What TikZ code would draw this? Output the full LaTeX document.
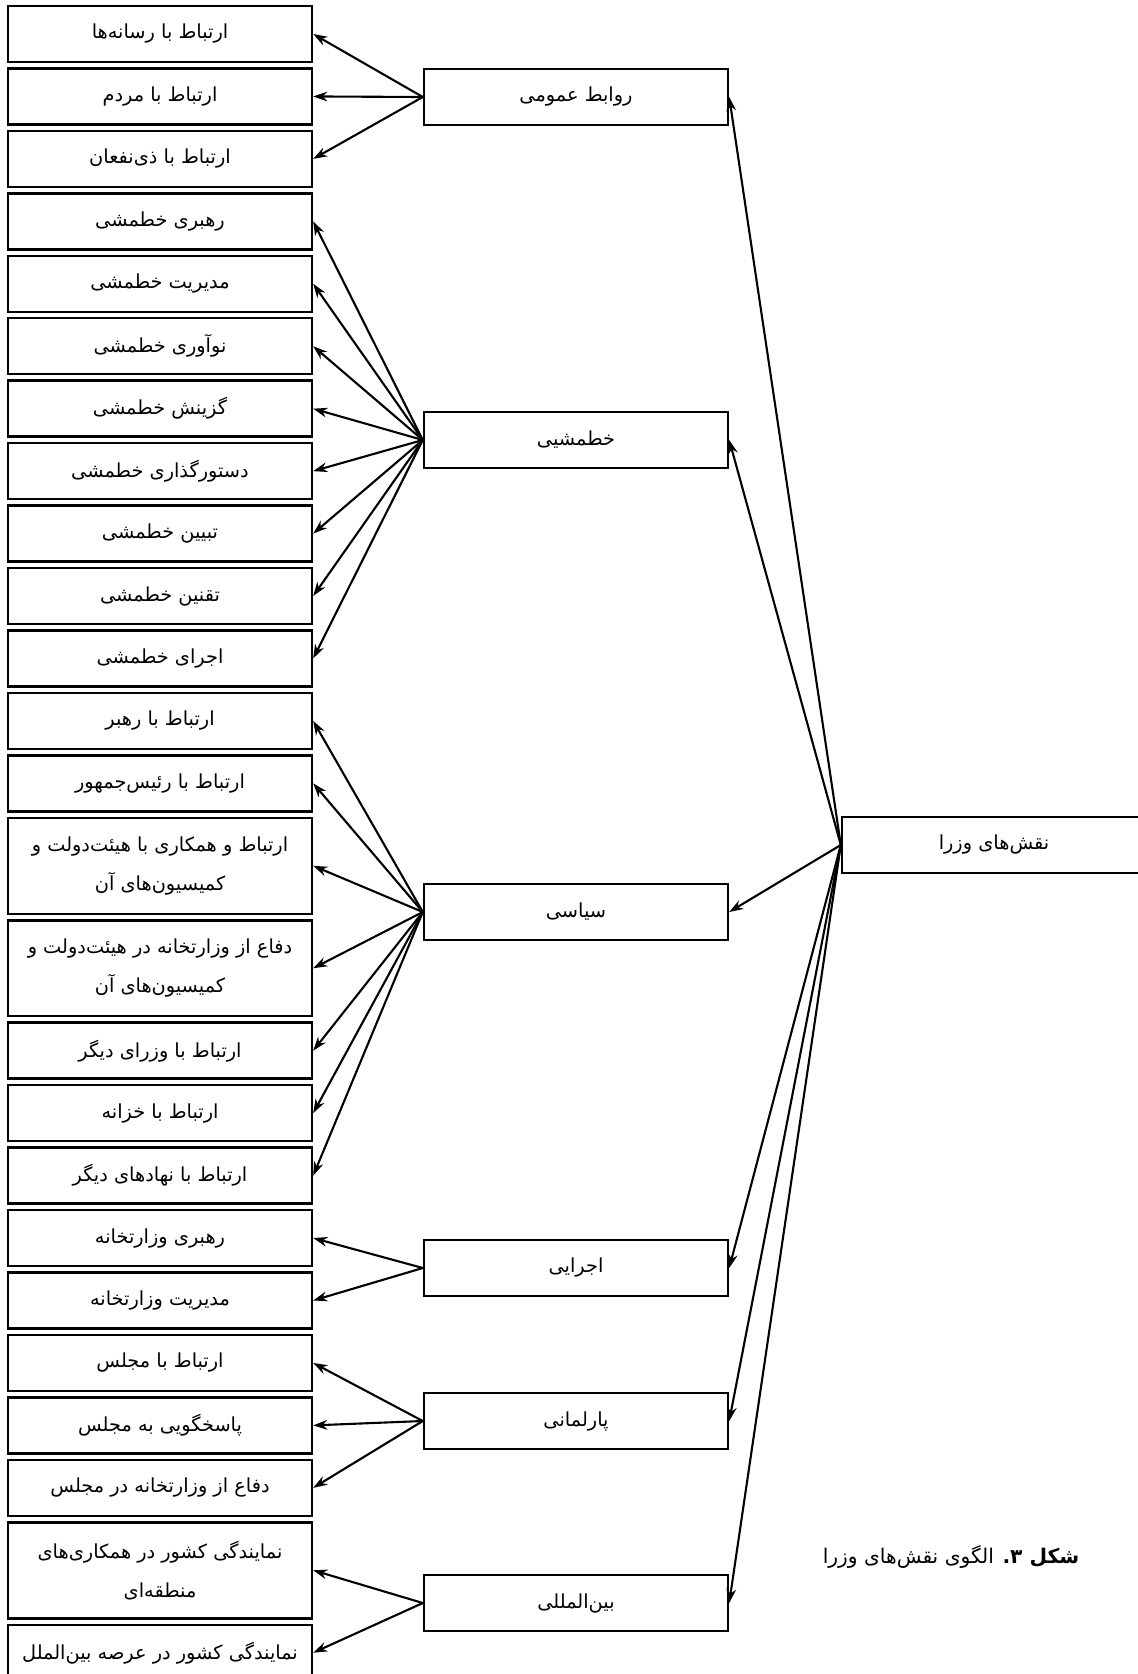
\documentclass[tikz,border=0pt]{standalone}
\usepackage{fontspec}
\newfontfamily\farsi[Script=Arabic]{DejaVu Sans}
\TeXXeTstate=1
\newcommand{\rl}[1]{\beginR #1\endR}
\usetikzlibrary{positioning, arrows.meta}

\begin{document}
\begin{tikzpicture}[
    x=0.02cm, y=-0.02cm,
    node distance=0.08cm,
    box/.style={rectangle, draw=black, line width=1.4pt, minimum width=6.08cm, minimum height=1.12cm, inner sep=0pt, align=center, fill=white, font={\farsi\fontsize{11}{22}\selectfont}},
    tallbox/.style={box, minimum height=1.92cm},
    arrow/.style={-{Stealth[length=8pt, width=5.5pt]}, line width=1.2pt}
]

\useasboundingbox (0,0) rectangle (1138,1674);
\clip (0,0) rectangle (1138,1674);

% Root (right)
\node[box] (roles) at (994,845) {\rl{نقش^^^^200cهای وزرا}};

% Role groups (middle)
\node[box] (pr) at (576,97) {\rl{روابط عمومی}};
\node[box] (policy) at (576,440) {\rl{خطمشیی}};
\node[box] (pol) at (576,912) {\rl{سیاسی}};
\node[box] (exec) at (576,1268) {\rl{اجرایی}};
\node[box] (parl) at (576,1421) {\rl{پارلمانی}};
\node[box] (intl) at (576,1603) {\rl{بین^^^^200cالمللی}};

% Tasks (left column)
\node[box] (media) at (160,34) {\rl{ارتباط با رسانه^^^^200cها}};
\node[box, below=of media] (people) {\rl{ارتباط با مردم}};
\node[box, below=of people] (stake) {\rl{ارتباط با ذی^^^^200cنفعان}};
\node[box, below=of stake] (plead) {\rl{رهبری خطمشی}};
\node[box, below=of plead] (pmanage) {\rl{مدیریت خطمشی}};
\node[box, below=of pmanage] (pinnov) {\rl{نوآوری خطمشی}};
\node[box, below=of pinnov] (pselect) {\rl{گزینش خطمشی}};
\node[box, below=of pselect] (pagenda) {\rl{دستورگذاری خطمشی}};
\node[box, below=of pagenda] (pexplain) {\rl{تبیین خطمشی}};
\node[box, below=of pexplain] (plegis) {\rl{تقنین خطمشی}};
\node[box, below=of plegis] (pimpl) {\rl{اجرای خطمشی}};
\node[box, below=of pimpl] (leader) {\rl{ارتباط با رهبر}};
\node[box, below=of leader] (president) {\rl{ارتباط با رئیس^^^^200cجمهور}};
\node[tallbox, below=of president] (cabinet) {\rl{ارتباط و همکاری با هیئت^^^^200cدولت و}\\\rl{کمیسیون^^^^200cهای آن}};
\node[tallbox, below=of cabinet] (defcab) {\rl{دفاع از وزارتخانه در هیئت^^^^200cدولت و}\\\rl{کمیسیون^^^^200cهای آن}};
\node[box, below=of defcab] (ministers) {\rl{ارتباط با وزرای دیگر}};
\node[box, below=of ministers] (treasury) {\rl{ارتباط با خزانه}};
\node[box, below=of treasury] (inst) {\rl{ارتباط با نهادهای دیگر}};
\node[box, below=of inst] (mlead) {\rl{رهبری وزارتخانه}};
\node[box, below=of mlead] (mmanage) {\rl{مدیریت وزارتخانه}};
\node[box, below=of mmanage] (parlink) {\rl{ارتباط با مجلس}};
\node[box, below=of parlink] (answer) {\rl{پاسخگویی به مجلس}};
\node[box, below=of answer] (defparl) {\rl{دفاع از وزارتخانه در مجلس}};
\node[tallbox, below=of defparl] (regional) {\rl{نمایندگی کشور در همکاری^^^^200cهای}\\\rl{منطقه^^^^200cای}};
\node[box, below=of regional] (global) {\rl{نمایندگی کشور در عرصه بین^^^^200cالملل}};

% Caption
\node[font={\farsi\fontsize{11.5}{22}\selectfont}] (caption) at (951,1557) {\rl{{\bfseries شکل ۳.} الگوی نقش^^^^200cهای وزرا}};

% Root -> groups
\draw[arrow] (roles.west) -- (pr.east);
\draw[arrow] (roles.west) -- (policy.east);
\draw[arrow] (roles.west) -- (pol.east);
\draw[arrow] (roles.west) -- (exec.east);
\draw[arrow] (roles.west) -- (parl.east);
\draw[arrow] (roles.west) -- (intl.east);

% Groups -> tasks
\draw[arrow] (pr.west) -- (media.east);
\draw[arrow] (pr.west) -- (people.east);
\draw[arrow] (pr.west) -- (stake.east);

\draw[arrow] (policy.west) -- (plead.east);
\draw[arrow] (policy.west) -- (pmanage.east);
\draw[arrow] (policy.west) -- (pinnov.east);
\draw[arrow] (policy.west) -- (pselect.east);
\draw[arrow] (policy.west) -- (pagenda.east);
\draw[arrow] (policy.west) -- (pexplain.east);
\draw[arrow] (policy.west) -- (plegis.east);
\draw[arrow] (policy.west) -- (pimpl.east);

\draw[arrow] (pol.west) -- (leader.east);
\draw[arrow] (pol.west) -- (president.east);
\draw[arrow] (pol.west) -- (cabinet.east);
\draw[arrow] (pol.west) -- (defcab.east);
\draw[arrow] (pol.west) -- (ministers.east);
\draw[arrow] (pol.west) -- (treasury.east);
\draw[arrow] (pol.west) -- (inst.east);

\draw[arrow] (exec.west) -- (mlead.east);
\draw[arrow] (exec.west) -- (mmanage.east);

\draw[arrow] (parl.west) -- (parlink.east);
\draw[arrow] (parl.west) -- (answer.east);
\draw[arrow] (parl.west) -- (defparl.east);

\draw[arrow] (intl.west) -- (regional.east);
\draw[arrow] (intl.west) -- (global.east);

\end{tikzpicture}
\end{document}
